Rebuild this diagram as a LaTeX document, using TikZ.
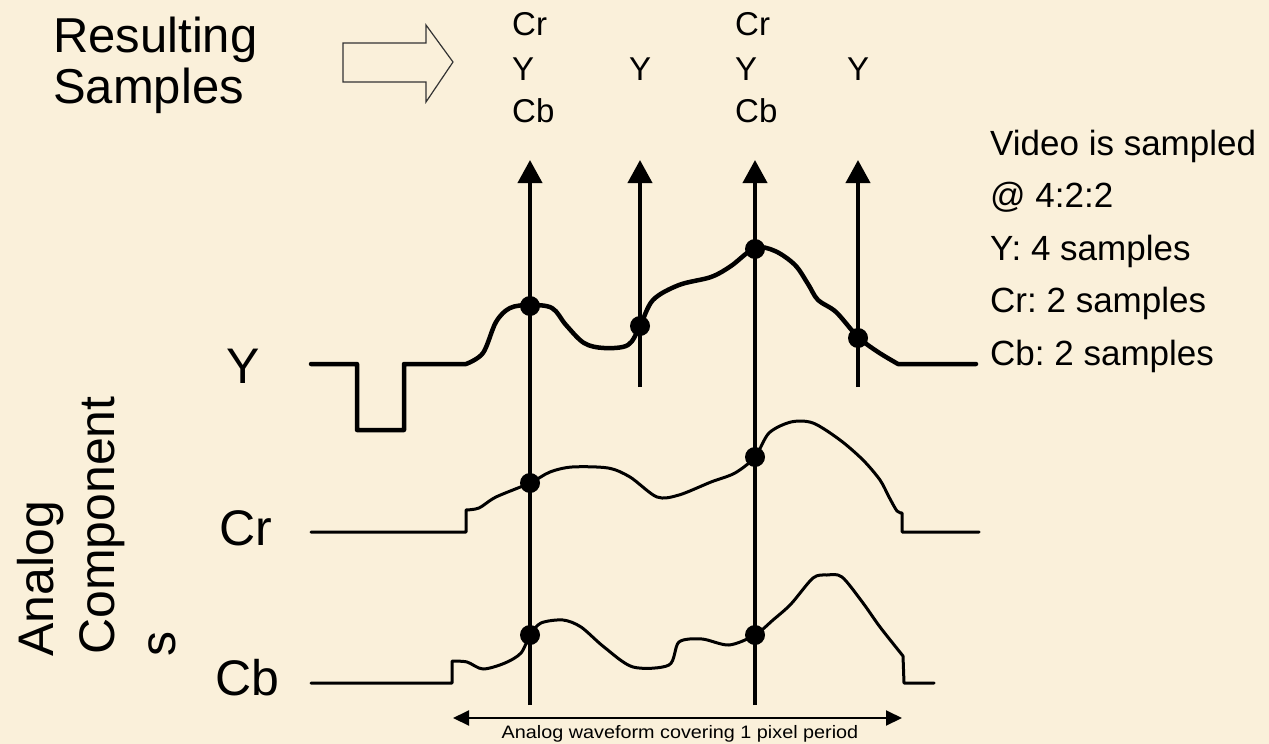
\documentclass[tikz,border=0pt]{standalone}
\usepackage{fontspec}
\setmainfont{Liberation Sans}
\usetikzlibrary{arrows.meta}
\definecolor{bg}{RGB}{250,240,218}
\frenchspacing
\begin{document}
\begin{tikzpicture}[x=1pt,y=-1pt,
  wave/.style={line width=3pt, line join=round, line cap=round},
  ywave/.style={line width=4.5pt, line join=round, line cap=round},
  samp/.style={line width=4pt, -{Triangle[length=23pt,width=24pt]}},
  sdot/.style={circle, fill=black, inner sep=0pt, minimum size=20pt},
  bigtxt/.style={inner sep=0pt, font=\fontsize{49}{56}\selectfont},
  lbltxt/.style={inner sep=0pt, font=\fontsize{50}{60}\selectfont},
  midtxt/.style={inner sep=0pt, font=\fontsize{33}{40}\selectfont},
  notetxt/.style={inner sep=0pt, font=\fontsize{35}{42}\selectfont},
  smalltxt/.style={inner sep=0pt, font=\fontsize{18}{22}\selectfont}]
\fill[bg] (0,0) rectangle (1269,744);
\useasboundingbox (0,0) rectangle (1269,744);

% title and hollow arrow
\node[bigtxt, anchor=base west] (res) at (53,52) {Resulting};
\node[bigtxt, anchor=base west] (sam) at (53,103) {Samples};
\draw[line width=1.2pt, draw=black!80] (343,43) -- (426,43) -- (426,25) -- (453,62) -- (426,102) -- (426,82) -- (343,82) -- cycle;

% resulting samples labels
\node[midtxt, anchor=base west] (cr1) at (512,35) {Cr};
\node[midtxt, anchor=base west] (y1) at (512,80) {Y};
\node[midtxt, anchor=base west] (cb1) at (512,122) {Cb};
\node[midtxt, anchor=base] (y2) at (640,80) {Y};
\node[midtxt, anchor=base west] (cr3) at (735,35) {Cr};
\node[midtxt, anchor=base west] (y3) at (735,80) {Y};
\node[midtxt, anchor=base west] (cb3) at (735,122) {Cb};
\node[midtxt, anchor=base] (y4) at (858,80) {Y};

% sampling lines
\coordinate (t1) at (530,160); \coordinate (b1) at (530,705);
\coordinate (t2) at (640,160); \coordinate (b2) at (640,387);
\coordinate (t3) at (755,160); \coordinate (b3) at (755,705);
\coordinate (t4) at (858,160); \coordinate (b4) at (858,387);
\draw[samp] (b1) -- (t1);
\draw[samp] (b2) -- (t2);
\draw[samp] (b3) -- (t3);
\draw[samp] (b4) -- (t4);

% Y waveform
\draw[ywave] (311,364) -- (357,364) -- (357,430) -- (404,430) -- (404,364) -- (466,364)
  -- plot[smooth, tension=0.55] coordinates {(466,364) (483,353) (496,322) (510,308) (530,305) (552,308) (566,325) (584,343) (604,348) (628,345) (640,326) (653,300) (679,285) (711,277) (731,266) (755,248) (775,251) (795,265) (808,284) (818,300) (836,312) (858,337) (878,352) (898,364)}
  -- (976,364);

% Cr waveform
\draw[wave] (311,532) -- (466,532) -- (466,510)
  -- plot[smooth, tension=0.5] coordinates {(466,510) (479,508) (496,497) (530,483) (550,472) (572,467) (608,468) (630,477) (657,497) (679,495) (711,482) (735,473) (755,457) (769,433) (791,422) (813,423) (840,440) (863,460) (880,480) (889,497) (897,511) (902,513)}
  -- (902,532) -- (979,532);

% Cb waveform
\draw[wave] (311,683) -- (452,683) -- (452,661)
  -- plot[smooth, tension=0.5] coordinates {(452,661) (467,662) (483,669) (505,663) (521,653) (530,635) (541,623) (563,620) (581,627) (604,647) (633,667) (669,665) (679,642) (702,639) (729,645) (755,635) (773,620) (791,604) (813,578) (827,575) (842,577) (863,603) (880,627) (903,656)}
  -- (904,683) -- (934,683);

% sample dots
\node[sdot] (dy1) at (530,306) {};
\node[sdot] (dy2) at (640,326) {};
\node[sdot] (dy3) at (755,249) {};
\node[sdot] (dy4) at (858,338) {};
\node[sdot] (dr1) at (530,483) {};
\node[sdot] (dr3) at (755,457) {};
\node[sdot] (db1) at (530,635) {};
\node[sdot] (db3) at (755,635) {};

% left labels
\node[lbltxt, anchor=base] (ly) at (243,383) {Y};
\node[lbltxt, anchor=base] (lcr) at (246,545) {Cr};
\node[lbltxt, anchor=base] (lcb) at (247,695) {Cb};
\node[lbltxt, rotate=90, anchor=base west] (an1) at (53,657) {Analog};
\node[lbltxt, rotate=90, anchor=base west] (an2) at (114,655) {Component};
\node[lbltxt, rotate=90, anchor=base west] (an3) at (175,657) {s};

% right notes
\node[notetxt, anchor=base west] (n1) at (990,155) {Video is sampled};
\node[notetxt, anchor=base west] (n2) at (990,207.5) {@ 4:2:2};
\node[notetxt, anchor=base west] (n3) at (990,260) {Y: 4 samples};
\node[notetxt, anchor=base west] (n4) at (990,312.5) {Cr: 2 samples};
\node[notetxt, anchor=base west] (n5) at (990,365) {Cb: 2 samples};

% pixel period
\coordinate (pl) at (453,718);
\coordinate (pr) at (902,718);
\draw[line width=2pt, {Triangle[length=16pt,width=15pt]}-{Triangle[length=16pt,width=15pt]}] (pl) -- (pr);
\node[smalltxt, anchor=base] (per) at (680,738) {\scalebox{1.1}[1]{Analog waveform covering 1 pixel period}};
\end{tikzpicture}
\end{document}
